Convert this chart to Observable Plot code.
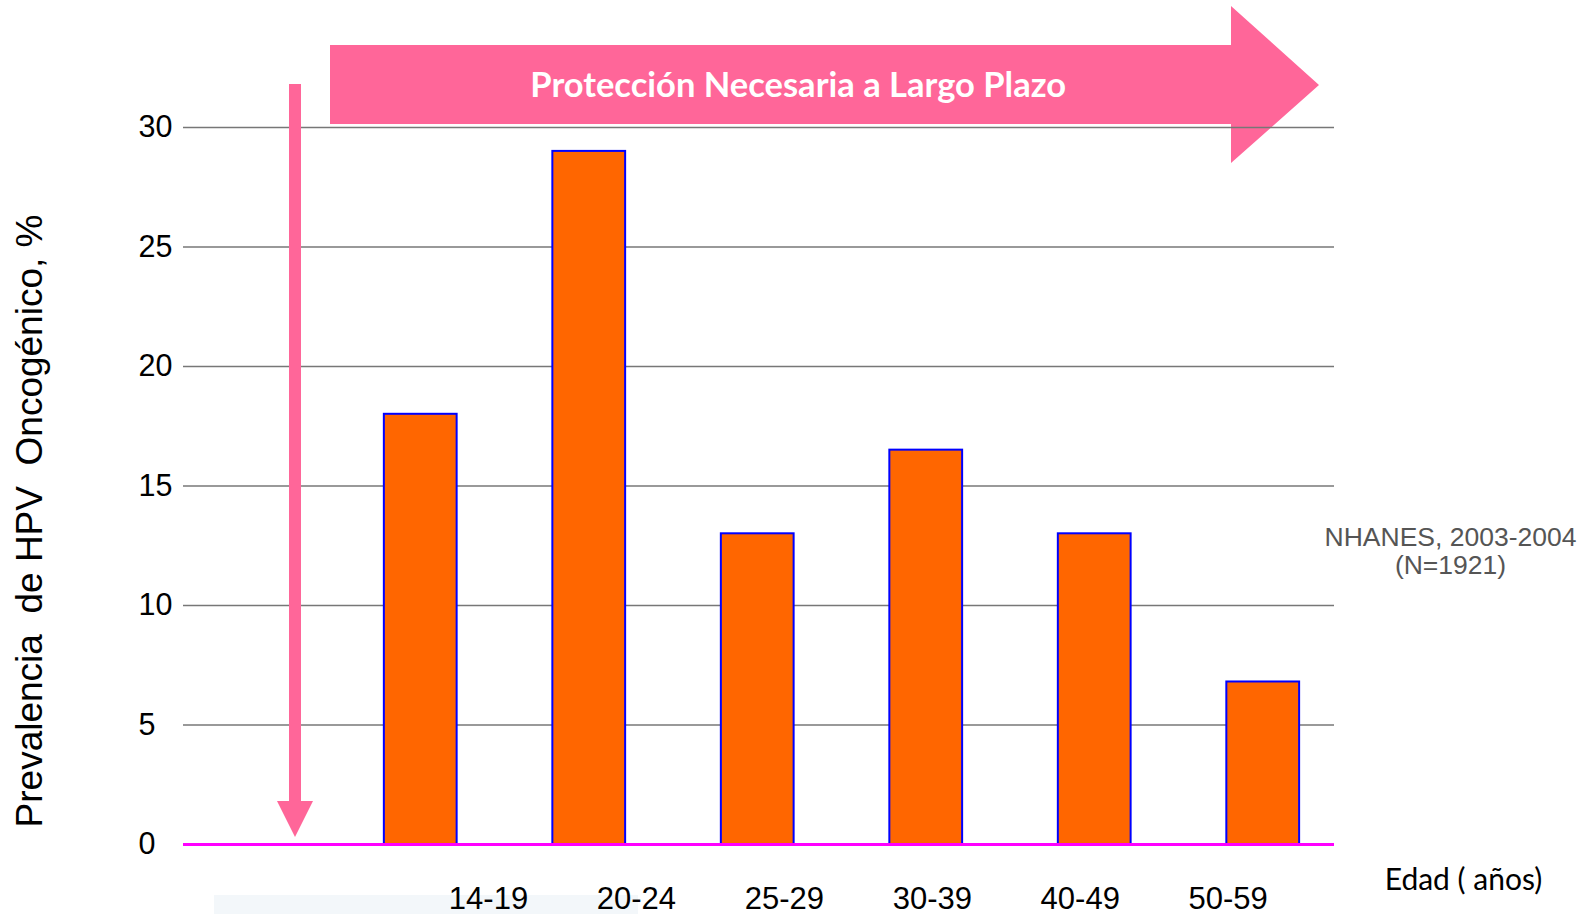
<!DOCTYPE html>
<html>
<head>
<meta charset="utf-8">
<script src="https://cdn.jsdelivr.net/npm/d3@7"></script>
<script src="https://cdn.jsdelivr.net/npm/@observablehq/plot@0.6"></script>
<style>
  html, body { margin: 0; padding: 0; background: #fff; }
  #chart svg { display: block; }
</style>
</head>
<body>
<div id="chart"></div>
<script>
// ---- data ----
const ageGroups = ["14-19", "20-24", "25-29", "30-39", "40-49", "50-59"];
const prevalence = [18, 29, 13, 16.5, 13, 6.8];
const yTicks = [0, 5, 10, 15, 20, 25, 30];
const gridTicks = [5, 10, 15, 20, 25, 30];
const yTitle = "Prevalencia  de HPV  Oncogénico, %";
const xTitle = "Edad ( años)";
const banner = "Protección Necesaria a Largo Plazo";
const sourceLines = ["NHANES, 2003-2004", "(N=1921)"];

// ---- layout ----
const W = 1591, H = 914;
const barHalf = 0.216;          // half bar width in slot units
const labelStart = 0.402, labelStep = 0.878; // tick label slots
const pink = "#FF6699";

const decorations = (index, scales, values, dims) => {
  const g = d3.create("svg:g");
  // pale strip at bottom
  g.append("rect").attr("x", 214).attr("y", 895).attr("width", 424).attr("height", 19).attr("fill", "#F3F7FA");
  // big banner arrow
  g.append("path")
    .attr("d", "M330,45 L1231,45 L1231,6 L1319,85 L1231,163 L1231,124 L330,124 Z")
    .attr("fill", pink);
  return g.node();
};

const downArrow = (index, scales, values, dims) => {
  const g = d3.create("svg:g");
  g.append("rect").attr("x", 289).attr("y", 84).attr("width", 12).attr("height", 720).attr("fill", pink);
  g.append("path").attr("d", "M277,801 L313,801 L295,837 Z").attr("fill", pink);
  return g.node();
};

const chart = Plot.plot({
  width: W,
  height: H,
  marginLeft: 183,
  marginRight: 257,
  marginTop: 127,
  marginBottom: 70,
  style: { fontFamily: "'Liberation Sans', Arial, sans-serif", color: "#000", background: "#fff", overflow: "visible" },
  x: { type: "linear", domain: [-1.408, 5.423], axis: null },
  y: { domain: [0, 30], axis: null },
  marks: [
    decorations,
    Plot.text([banner], {
      x: 2.24, frameAnchor: "top", dy: -42, text: d => d,
      fill: "#fff", fontSize: 34.5, fontWeight: "bold", fontFamily: "Lato, sans-serif",
      lineAnchor: "middle"
    }),
    Plot.ruleY(gridTicks, { stroke: "#777", strokeWidth: 1.6 }),
    downArrow,
    Plot.axisY({ ticks: yTicks, tickSize: 0, tickPadding: 5, fontSize: 30.5, label: null, fill: "#000", textAnchor: "start", dx: -40 }),
    Plot.rect(prevalence, {
      x1: (d, i) => i - barHalf,
      x2: (d, i) => i + barHalf,
      y1: 0,
      y2: d => d,
      fill: "#FF6600",
      stroke: "#0000FF",
      strokeWidth: 2
    }),
    Plot.ruleY([0], { stroke: "#FF00FF", strokeWidth: 3 }),
    Plot.text(ageGroups, {
      x: (d, i) => labelStart + i * labelStep,
      y: 0, dy: 55, text: d => d,
      fontSize: 31, fill: "#000", lineAnchor: "middle"
    }),
    Plot.text([xTitle], {
      frameAnchor: "bottom-right", dx: 129, dy: 45, text: d => d,
      fontSize: 30, fontFamily: "Lato, sans-serif", fill: "#000", textAnchor: "middle", lineAnchor: "bottom"
    }),
    Plot.text([sourceLines.join("\n")], {
      frameAnchor: "right", dx: 116, dy: 65, text: d => d,
      fontSize: 26.5, fill: "#555", textAnchor: "middle", lineAnchor: "middle", lineHeight: 1.05
    }),
    Plot.text([yTitle], {
      frameAnchor: "left", dx: -153, dy: 35, rotate: -90, text: d => d,
      fontSize: 37, fill: "#000", textAnchor: "middle", lineAnchor: "middle"
    })
  ]
});

document.getElementById("chart").appendChild(chart);
</script>
</body>
</html>
